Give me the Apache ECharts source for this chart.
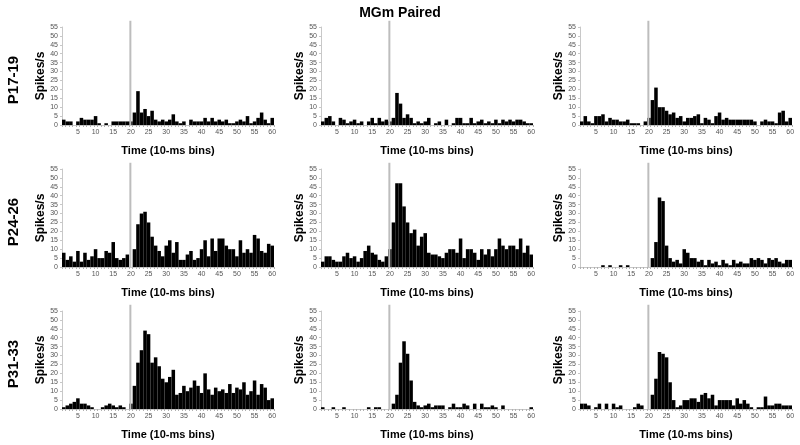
<!DOCTYPE html>
<html>
<head>
<meta charset="utf-8">
<script src="https://cdn.jsdelivr.net/npm/echarts@6/dist/echarts.min.js"></script>
<style>
html,body{margin:0;padding:0;background:#fff;}
#chart{width:800px;height:445px;}
</style>
</head>
<body>
<div id="chart"></div>
<script>
// ---- data ----
const bins = ["1","2","3","4","5","6","7","8","9","10","11","12","13","14","15","16","17","18","19","20",
  "21","22","23","24","25","26","27","28","29","30","31","32","33","34","35","36","37","38","39","40",
  "41","42","43","44","45","46","47","48","49","50","51","52","53","54","55","56","57","58","59","60"];
const yTicks = [0,5,10,15,20,25,30,35,40,45,50,55];
const title = "MGm Paired";
const rowLabels = ["P17-19", "P24-26", "P31-33"];
const yName = "Spikes/s";
const xName = "Time (10-ms bins)";
const onsetBin = 19.35; // stimulus marker position (bin boundary)

const p17_left  = [3,2,2,0,2,4,3,3,3,5, 1,0,1,0,2,2,2,2,2,2, 7,19,7,9,5,8,3,2,3,2, 3,6,2,1,2,0,3,2,2,2, 4,2,4,2,3,2,3,1,1,2, 3,2,5,1,2,4,7,3,1,4];
const p17_mid   = [2,4,5,2,0,4,3,1,2,3, 1,2,0,2,4,1,4,2,3,2, 4,18,12,4,6,4,1,2,1,2, 4,0,1,2,0,3,0,1,4,4, 1,1,4,1,2,3,1,2,1,3, 1,3,2,3,2,3,3,2,1,1];
const p17_right = [2,5,2,1,5,5,6,2,4,3, 3,2,2,3,1,1,1,0,2,4, 14,21,10,10,8,6,7,4,5,2, 4,4,5,6,1,4,3,1,5,7, 3,4,3,3,3,3,3,3,3,2, 0,2,3,2,2,1,7,8,2,4];
const p24_left  = [8,4,6,3,9,3,8,4,6,10, 5,5,9,8,14,5,4,5,7,0, 10,24,30,31,25,17,12,9,6,12, 15,8,14,4,4,7,9,4,5,10, 15,6,16,9,16,16,12,10,10,6, 15,8,10,8,18,16,9,8,13,12];
const p24_mid   = [3,6,6,4,3,3,6,8,5,6, 3,5,9,12,8,7,4,3,6,10, 25,47,47,34,25,19,21,12,17,19, 8,7,7,6,5,8,10,10,8,16, 5,10,10,8,4,10,7,10,6,10, 16,12,10,12,12,10,16,8,12,7];
const p24_right = [0,0,0,0,0,0,1,0,1,0, 0,1,0,1,0,0,0,0,0,0, 5,14,39,37,12,5,3,4,2,10, 8,5,5,3,4,1,4,2,3,1, 4,2,1,4,2,3,2,2,5,4, 5,4,2,5,4,5,3,2,4,4];
const p31_left  = [1,2,3,4,6,3,3,2,1,0, 0,1,2,3,2,1,2,1,0,3, 13,26,33,44,42,26,29,24,17,15, 18,22,8,9,13,10,12,16,13,9, 20,11,8,12,10,11,9,14,9,12, 11,15,8,10,16,8,14,12,5,6];
const p31_mid   = [1,0,0,1,0,0,1,0,0,0, 0,0,0,1,0,1,1,0,0,0, 3,8,26,38,31,16,4,2,1,2, 3,1,2,2,2,0,1,3,1,1, 3,2,0,3,0,3,1,1,2,1, 0,2,0,0,0,0,0,0,0,1];
const p31_right = [3,3,2,0,1,3,0,3,0,3, 1,2,0,0,0,1,3,2,0,0, 8,17,32,31,29,15,5,1,2,5, 5,6,6,4,8,9,6,8,2,5, 5,5,5,2,6,3,5,3,1,0, 1,1,7,2,2,3,3,2,2,2];

const panels = [p17_left, p17_mid, p17_right, p24_left, p24_mid, p24_right, p31_left, p31_mid, p31_right];

// ---- layout ----
const FONT = '"Liberation Sans", Arial, sans-serif';
const colLeft = [62, 321, 580];
const rowTop = [27, 169, 311];
const gw = 212, gh = 98;

const grid = [], xAxis = [], yAxis = [], series = [], graphic = [];
panels.forEach((vals, i) => {
  const r = Math.floor(i / 3), c = i % 3;
  grid.push({left: colLeft[c], top: rowTop[r], width: gw, height: gh});
  // category axis for bars
  xAxis.push({
    type: 'category', gridIndex: i, data: bins,
    name: xName, nameLocation: 'middle', nameGap: 20,
    nameTextStyle: {fontFamily: FONT, fontSize: 11, fontWeight: 'bold', color: '#000'},
    axisLine: {lineStyle: {color: '#c8c8c8', width: 1}},
    axisTick: {show: true, interval: 0, length: 2, lineStyle: {color: '#b0b0b0'}},
    axisLabel: {
      interval: (idx) => (idx + 1) % 5 === 0,
      fontFamily: FONT, fontSize: 7, color: '#555', margin: 4
    },
    splitLine: {show: false}
  });
  // hidden value axis to position the onset marker
  xAxis.push({type: 'value', gridIndex: i, min: 0, max: 60, show: false});
  yAxis.push({
    type: 'value', gridIndex: i, min: 0, max: 55, interval: 5,
    name: yName, nameLocation: 'middle', nameGap: 15, nameRotate: 90,
    nameTextStyle: {fontFamily: FONT, fontSize: 12, fontWeight: 'bold', color: '#000'},
    axisLine: {show: true, lineStyle: {color: '#c8c8c8', width: 1}},
    axisTick: {show: true, length: 2, lineStyle: {color: '#c8c8c8'}},
    axisLabel: {fontFamily: FONT, fontSize: 7, color: '#555', margin: 4},
    splitLine: {show: false}
  });
  series.push({
    type: 'bar', xAxisIndex: 2 * i, yAxisIndex: i, data: vals,
    barCategoryGap: '0%', barGap: '0%',
    itemStyle: {color: '#000'}, silent: true, z: 2
  });
  series.push({
    type: 'line', xAxisIndex: 2 * i + 1, yAxisIndex: i,
    data: [[onsetBin, 0], [onsetBin, 58.5]],
    symbol: 'none', clip: false, silent: true, z: 3,
    lineStyle: {color: '#bdbdbd', width: 2}
  });
  if (c === 0) {
    graphic.push({
      type: 'text', x: 14, y: rowTop[r] + gh / 2 + 4, rotation: Math.PI / 2,
      style: {text: rowLabels[r], font: 'bold 15px ' + FONT, fill: '#000', align: 'center', verticalAlign: 'middle'}
    });
  }
});

const chart = echarts.init(document.getElementById('chart'), null, {renderer: 'canvas'});
chart.setOption({
  animation: false,
  backgroundColor: '#fff',
  title: {text: title, left: 'center', top: 1,
    textStyle: {fontFamily: FONT, fontSize: 14, fontWeight: 'bold', color: '#000'}},
  grid, xAxis, yAxis, series, graphic
});
</script>
</body>
</html>
